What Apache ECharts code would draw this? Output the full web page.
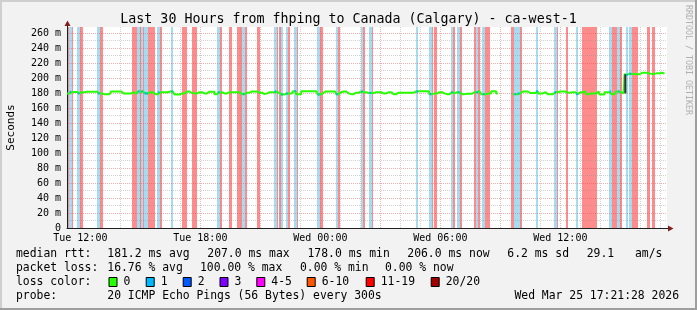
<!DOCTYPE html>
<html><head><meta charset="utf-8">
<script src="https://cdn.jsdelivr.net/npm/echarts@6/dist/echarts.min.js"></script>
<style>html,body{margin:0;padding:0;background:#f2f2f2}#c{width:697px;height:310px}</style>
</head><body><div id="c"></div>
<script>
// ---------- data ----------
const title = 'Last 30 Hours from fhping to Canada (Calgary) - ca-west-1';
const yUnitLabel = 'Seconds';
const watermark = 'RRDTOOL / TOBI OETIKER';
// 5-minute steps starting Tue 11:20
const stepDays = ['Tue', 'Wed'];
const stepFirstMinute = 11 * 60 + 20;
const stepMinutes = 5;
const stepCount = 361;
const xTickLabels = ['Tue 12:00', 'Tue 18:00', 'Wed 00:00', 'Wed 06:00', 'Wed 12:00'];
const yTickValues = [0, 20, 40, 60, 80, 100, 120, 140, 160, 180, 200, 220, 240, 260];
const yMax = 268;
// median rtt (ms), one row per hour starting at Tue 11:20
const median = [
179.5,179.5,181.5,181.5,181.5,181.5,181.5,179.5,179.5,181,181,181,
181.8,181.8,181.8,181.8,181.8,181.8,181.8,179.5,179.5,179.5,178.2,178.2,
178.2,178.2,178.2,182,182,182,182,182,182,182,179.5,179.5,
179.5,179.5,179.5,181,181,179,179,182,182,182,179.5,179.5,
179.5,181,181,181,178.5,178.5,178.5,181,181,181,181,181,
181,181,182,182,179.5,178,178,178,178,179.5,179.5,182,
182,182,180,180,179.5,179.5,179.5,181,181,181,179.5,179.5,
179.5,181.8,181.8,181.8,181.8,178.5,178.5,181,181,181,179.5,179.5,
179.5,181,181,181,181,181,181,181,178.5,178.5,178.5,178.5,
180.5,180.5,180.5,182,182,182,182,180.5,180.5,180.5,178.5,179.5,
179.5,181,181,181,181,182,182,179.5,179.5,178,178,178,
179.5,179.5,179.5,179.5,182.5,182.5,178.5,178.5,178.5,182.5,182.5,182.5,
182.5,182.5,182.5,182.5,182.5,182.5,181,178,178,179.5,179.5,182,
182,182,182,182,182,182,178.5,178.5,181,181,182,182,
179.5,179.5,178.5,178.5,178.5,180.5,180.5,180.5,182,182,181,181,
181,180,180,180,180,181,181,181,181,179.5,179.5,179.5,
181,181,181,181,178.5,178.5,181,180.5,180.5,180.5,180.5,180.5,
180.5,180.5,180.5,180.5,180.5,182,182,182.5,182.5,182.5,182.5,182.5,
182.5,182.5,178.5,178.5,179.5,179.5,179.5,181,181,181,179.5,179.5,
178.5,178.5,181,181,179.5,181,181,181,181,178.5,178.5,179,
179,179,179,179,181,181,181,182.5,182.5,178.5,178.5,178.5,
179.5,179.5,179.5,182.5,182.5,182.5,179.5,null,null,null,null,null,
null,null,null,null,178.5,178.5,178.5,179.5,179.5,182,182,182,
182,180,180,180,180,180,182.5,179.5,179.5,179.5,181,181,
178.5,178.5,178.5,178.5,181,181,181,182,182,182,182,182,
180.5,180.5,180.5,181,181,181,178.5,178.5,181,181,181,182,
178.5,178.5,179.5,179.5,179.5,179.5,182,182,178,178,178,181,
181,181,182,178.5,178.5,178.5,182,182,181,181,179.5,205,
204.5,205.5,206,205.5,205.5,205.5,205,205,207,207,207,207,
207,206,206,205.5,205.5,206.5,206.5,206,206,207,206,null,
null
];
// steps (index from Tue 11:20) with 1 of 20 pings lost
const lossOneSteps = [2,7,19,43,45,47,48,55,63,91,106,125,129,132,137,151,162,177,182,210,218,231,235,246,250,269,271,282,293,306,326,331,336,338];
// steps with heavy loss
const lossHighSteps = [1,3,8,9,20,21,40,41,44,46,49,50,52,56,70,71,76,77,92,98,103,104,105,107,115,126,128,133,138,152,153,163,178,183,219,221,232,236,245,247,251,253,267,268,270,272,294,300,310,311,313,314,315,316,317,327,328,329,330,332,339,340,341,342,349,352];
// smoke spread [step, low, high]
const smokeSpread = [[335, 179.5, 205]];

const legendRtt = ['median rtt:', '181.2 ms avg', '207.0 ms max', '178.0 ms min', '206.0 ms now', '6.2 ms sd', '29.1', 'am/s'];
const legendLoss = ['packet loss:', '16.76 % avg', '100.00 % max', '0.00 % min', '0.00 % now'];
const lossColorTitle = 'loss color:';
const lossColorLabels = ['0', '1', '2', '3', '4-5', '6-10', '11-19', '20/20'];
const lossColors = ['#26ff00', '#00b8ff', '#0059ff', '#7e00ff', '#ff00ff', '#ff5500', '#ff0000', '#a10000'];
const probeLine = ['probe:', '20 ICMP Echo Pings (56 Bytes) every 300s'];
const stampText = 'Wed Mar 25 17:21:28 2026';

// ---------- layout / style ----------
const FONT = '"DejaVu Sans Mono", monospace';
const rttX = [16, 107.3, 207.3, 307.5, 407.3, 507.3, 586.7, 635];
const lossX = [16, 107.3, 200, 300, 385];
const boxX = [108.5, 145.7, 182.7, 219.5, 256.3, 306.7, 365.7, 430.7];
const GRID = {left: 67, top: 27, width: 600, height: 201};
const MAJOR = 'rgba(222,79,79,0.45)';
const MINOR = 'rgba(143,143,143,0.4)';
const LOSS1_BG = '#a6dcf2';
const LOSSH_BG = '#ff8c8c';

const categories = [];
for (let i = 0; i < stepCount; i++) {
  const m = stepFirstMinute + stepMinutes * i;
  const d = Math.floor(m / 1440), hh = Math.floor((m % 1440) / 60), mm = m % 60;
  categories.push(stepDays[d] + ' ' + String(hh).padStart(2, '0') + ':' + String(mm).padStart(2, '0'));
}
function runs(steps) {
  const s = steps.slice().sort((a, b) => a - b), out = [];
  for (const k of s) {
    if (out.length && out[out.length - 1][1] === k - 1) out[out.length - 1][1] = k;
    else out.push([k, k]);
  }
  return out;
}
function bgRender(color) {
  return function (params, api) {
    const a = api.value(0), b = api.value(1);
    const w = api.size([1, 0])[0];
    const cs = params.coordSys;
    let x1 = Math.floor(api.coord([a, 0])[0] - w / 2), x2 = Math.ceil(api.coord([b, 0])[0] + w / 2);
    x1 = Math.max(x1, cs.x); x2 = Math.min(x2, cs.x + cs.width);
    const top = api.coord([a, yMax])[1], bot = api.coord([a, 0])[1];
    return {type: 'rect', shape: {x: x1, y: top, width: x2 - x1, height: bot - top}, style: {fill: color}};
  };
}
const blueDots = lossOneSteps.filter(k => median[k] != null).map(k => [k, median[k]]);

const txt = (x, y, s, size) => ({
  type: 'text', x: x, y: y,
  style: {text: s, font: size + 'px ' + FONT, fill: '#000', textAlign: 'left', textVerticalAlign: 'middle'}
});

const graphics = [];
// frame
graphics.push({type: 'rect', shape: {x: 0, y: 0, width: 697, height: 2}, style: {fill: '#cfcfcf'}});
graphics.push({type: 'rect', shape: {x: 0, y: 0, width: 2, height: 310}, style: {fill: '#cfcfcf'}});
graphics.push({type: 'rect', shape: {x: 0, y: 308, width: 697, height: 2}, style: {fill: '#9e9e9e'}});
graphics.push({type: 'rect', shape: {x: 695, y: 0, width: 2, height: 310}, style: {fill: '#9e9e9e'}});
// title, unit, watermark
graphics.push({type: 'text', x: 348.5, y: 20, style: {text: title, font: '13.3px ' + FONT, fill: '#000', textAlign: 'center', textVerticalAlign: 'middle'}});
graphics.push({type: 'text', x: 11, y: 127.5, rotation: Math.PI / 2,
  style: {text: yUnitLabel, font: '11px ' + FONT, fill: '#000', textAlign: 'center', textVerticalAlign: 'middle'}});
graphics.push({type: 'text', x: 688, y: 60, rotation: -Math.PI / 2,
  style: {text: watermark, font: '8.3px ' + FONT, fill: '#b0b0b0', textAlign: 'center', textVerticalAlign: 'middle'}});
// axis extensions + arrows
graphics.push({type: 'line', shape: {x1: 67.5, y1: 27, x2: 67.5, y2: 23}, style: {stroke: '#1f1f1f', lineWidth: 1}, z: 10});
graphics.push({type: 'polygon', shape: {points: [[64.5, 26], [70.5, 26], [67.5, 20.5]]}, style: {fill: '#801f1f'}, z: 10});
graphics.push({type: 'line', shape: {x1: 667, y1: 228.5, x2: 670, y2: 228.5}, style: {stroke: '#1f1f1f', lineWidth: 1}, z: 10});
graphics.push({type: 'polygon', shape: {points: [[668, 225.5], [668, 231.5], [673.5, 228.5]]}, style: {fill: '#801f1f'}, z: 10});
// legend
legendRtt.forEach((s, i) => graphics.push(txt(rttX[i], 254, s, 11.4)));
legendLoss.forEach((s, i) => graphics.push(txt(lossX[i], 268, s, 11.4)));
graphics.push(txt(16, 282, lossColorTitle, 11.4));
lossColorLabels.forEach((s, i) => {
  graphics.push({type: 'rect', shape: {x: boxX[i] + 0.5, y: 277.5, width: 8, height: 9}, style: {fill: lossColors[i], stroke: '#000', lineWidth: 1}});
  graphics.push(txt(boxX[i] + 15, 282, s, 11.4));
});
graphics.push(txt(16, 296, probeLine[0], 11.4));
graphics.push(txt(107.3, 296, probeLine[1], 11.4));
graphics.push({type: 'text', x: 679, y: 296, style: {text: stampText, font: '11.4px ' + FONT, fill: '#000', textAlign: 'right', textVerticalAlign: 'middle'}});

const chart = echarts.init(document.getElementById('c'), null, {renderer: 'canvas'});
chart.setOption({
  animation: false,
  backgroundColor: '#f2f2f2',
  grid: Object.assign({backgroundColor: '#ffffff', show: true, borderWidth: 0}, GRID),
  xAxis: {
    type: 'category', data: categories, boundaryGap: false, z: 3,
    axisLine: {show: true, lineStyle: {color: '#1f1f1f', width: 1}},
    axisTick: {show: false},
    axisLabel: {
      interval: (i, v) => xTickLabels.indexOf(v) >= 0,
      color: '#000', fontFamily: FONT, fontSize: 10, margin: 5
    },
    splitLine: {show: true, interval: (i, v) => v.endsWith(':00'),
      lineStyle: {color: [MAJOR, MINOR, MINOR], width: 1, type: [1, 1]}}
  },
  yAxis: {
    type: 'value', min: 0, max: yMax, interval: 10, z: 3,
    axisLine: {show: true, lineStyle: {color: '#1f1f1f', width: 1}},
    axisTick: {show: false},
    axisLabel: {
      formatter: v => yTickValues.indexOf(v) >= 0 ? (v === 0 ? '0' : v + ' m') : '',
      color: '#000', fontFamily: FONT, fontSize: 10, margin: 6
    },
    splitLine: {show: true, showMaxLine: false, lineStyle: {color: [MAJOR, MINOR], width: 1, type: [1, 1]}}
  },
  graphic: graphics,
  series: [
    {type: 'custom', name: 'loss high', data: runs(lossHighSteps), renderItem: bgRender(LOSSH_BG), z: 1, silent: true},
    {type: 'custom', name: 'loss 1', data: runs(lossOneSteps), renderItem: bgRender(LOSS1_BG), z: 1.5, silent: true},
    {type: 'line', name: 'median', data: median, step: 'middle', showSymbol: false, connectNulls: false,
      lineStyle: {color: '#26ff00', width: 2}, z: 4, silent: true},
    {type: 'custom', name: 'smoke', data: smokeSpread, z: 5, silent: true,
      renderItem: (params, api) => {
        const p1 = api.coord([api.value(0), api.value(1)]);
        const p2 = api.coord([api.value(0), api.value(2)]);
        return {type: 'rect', shape: {x: p1[0] - 1, y: p2[1], width: 2, height: p1[1] - p2[1]}, style: {fill: '#333'}};
      }},
    {type: 'custom', name: 'median loss 1', data: blueDots, z: 6, silent: true,
      renderItem: (params, api) => {
        const p = api.coord([api.value(0), api.value(1)]);
        const w = api.size([1, 0])[0];
        return {type: 'rect', shape: {x: p[0] - w / 2, y: p[1] - 1, width: w, height: 2}, style: {fill: '#00b8ff'}};
      }}
  ]
});
</script></body></html>
